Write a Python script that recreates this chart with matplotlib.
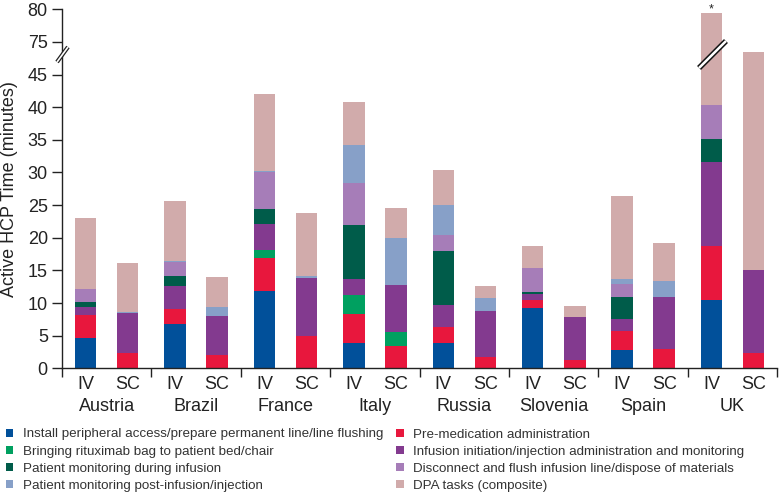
import numpy as np
import matplotlib
matplotlib.use('Agg')
import matplotlib.pyplot as plt
from matplotlib.path import Path

plt.rcParams['font.family'] = ['Liberation Sans', 'DejaVu Sans']

countries = ['Austria', 'Brazil', 'France', 'Italy', 'Russia', 'Slovenia', 'Spain', 'UK']
routes = ['IV', 'SC']

tasks = ['Install peripheral access/prepare permanent line/line flushing',
         'Pre-medication administration',
         'Bringing rituximab bag to patient bed/chair',
         'Infusion initiation/injection administration and monitoring',
         'Patient monitoring during infusion',
         'Disconnect and flush infusion line/dispose of materials',
         'Patient monitoring post-infusion/injection',
         'DPA tasks (composite)']
colors = ['#01509a', '#e8173d', '#00a060', '#833a8f',
          '#005c4a', '#a67db8', '#87a0c8', '#d1abab']

# minutes per task, one value per country
install_iv    = [4.6, 6.75, 11.8, 3.9, 3.9, 9.25, 2.8, 10.5]
install_sc    = [0, 0, 0, 0, 0, 0, 0, 0]
premed_iv     = [3.5, 2.3, 5.1, 4.45, 2.5, 1.15, 2.9, 8.2]
premed_sc     = [2.3, 2.1, 4.95, 3.4, 1.7, 1.3, 3.0, 2.3]
bag_iv        = [0, 0, 1.25, 2.9, 0, 0, 0, 0]
bag_sc        = [0, 0, 0, 2.1, 0, 0, 0, 0]
infusion_iv   = [1.3, 3.5, 4.0, 2.4, 3.25, 1.05, 1.8, 12.9]
infusion_sc   = [6.1, 5.95, 8.9, 7.2, 7.1, 6.6, 8.0, 12.7]
monitor_iv    = [0.8, 1.6, 2.3, 8.3, 8.3, 0.25, 3.5, 3.6]
monitor_sc    = [0, 0, 0, 0, 0, 0, 0, 0]
disconnect_iv = [2.0, 2.2, 5.55, 6.5, 2.4, 3.6, 1.9, 5.2]
disconnect_sc = [0, 0, 0, 0, 0, 0, 0, 0]
post_iv       = [0, 0.15, 0.3, 5.7, 4.7, 0.1, 0.8, 0]
post_sc       = [0.3, 1.3, 0.3, 7.2, 2.0, 0, 2.3, 0]
dpa_iv        = [10.9, 9.1, 11.7, 6.7, 5.4, 3.3, 12.7, 39.0]
dpa_sc        = [7.4, 4.65, 9.6, 4.6, 1.8, 1.6, 5.9, 33.4]

iv_data = [install_iv, premed_iv, bag_iv, infusion_iv, monitor_iv, disconnect_iv, post_iv, dpa_iv]
sc_data = [install_sc, premed_sc, bag_sc, infusion_sc, monitor_sc, disconnect_sc, post_sc, dpa_sc]

yticks = [0, 5, 10, 15, 20, 25, 30, 35, 40, 45, 75, 80]

# broken y axis: squeeze 49..75 into one unit
brk_v = [-100, 49, 75, 200]
brk_u = [-100, 49, 50, 175]
def fwd(v):
  return np.interp(v, brk_v, brk_u)
def inv(u):
  return np.interp(u, brk_u, brk_v)

fig = plt.figure(figsize=(7.81, 4.96), dpi=100)
ax = fig.add_axes([62/781, 1 - 368.3/496, (777.3 - 62)/781, (368.3 - 9.3)/496])
ax.set_yscale('function', functions=(fwd, inv))

x = np.arange(len(countries))
x_iv = x + 0.265
x_sc = x + 0.735
w = 0.24

b_iv = np.zeros(len(countries))
b_sc = np.zeros(len(countries))
handles = []
for name, col, iv, sc in zip(tasks, colors, iv_data, sc_data):
  h = ax.bar(x_iv, iv, w, bottom=b_iv, color=col, linewidth=0, label=name)
  ax.bar(x_sc, sc, w, bottom=b_sc, color=col, linewidth=0)
  b_iv += np.array(iv)
  b_sc += np.array(sc)
  handles.append(h)

ax.set_xlim(0, len(countries))
ax.set_ylim(0, 80)
ax.set_yticks(yticks)
ax.set_yticklabels([str(t) for t in yticks])
ax.minorticks_off()

for s in ['top', 'right']:
  ax.spines[s].set_visible(False)
for s in ['left', 'bottom']:
  ax.spines[s].set_linewidth(1.0)
  ax.spines[s].set_color('#222222')

ax.set_xticks(np.arange(len(countries) + 1))
ax.set_xticklabels([])
ax.set_xticks(np.concatenate([x_iv, x_sc]), minor=True)
ax.set_xticklabels(['IV'] * len(countries) + ['SC'] * len(countries), minor=True)
ax.tick_params(axis='x', which='major', direction='out', length=6.5, width=1.0, color='#222222')
ax.tick_params(axis='x', which='minor', length=0, pad=5.3, labelsize=13, labelcolor='#222222')
ax.tick_params(axis='y', direction='out', length=7.2, width=1.0, pad=3, labelsize=13,
               color='#222222', labelcolor='#222222')

for i, c in enumerate(countries):
  ax.annotate(c, xy=(i + 0.5, 0), xycoords=('data', 'axes fraction'),
              xytext=(0, -42.7), textcoords='offset pixels',
              ha='center', va='baseline', fontsize=13, color='#222222')

fig.text(9.5/781, 1 - 189/496, 'Active HCP Time (minutes)', rotation=90,
         ha='center', va='center', fontsize=13, color='#222222')

# axis break marks
slash = Path([(-0.73, -1), (0.73, 1)])
ax.plot([0], [48.2], marker=slash, ms=10.8, mew=3.0, color='#222222', mfc='none',
        clip_on=False, zorder=5)
ax.plot([0], [48.2], marker=slash, ms=10.8, mew=1.2, color='white', mfc='none',
        clip_on=False, zorder=6)

# break on the UK IV bar
diag = Path([(-1, -1), (1, 1)])
ax.plot([x_iv[-1]], [48.2], marker=diag, ms=19.4, mew=4.0, color='#111111', mfc='none',
        clip_on=False, zorder=5)
ax.plot([x_iv[-1]], [48.2], marker=diag, ms=19.4, mew=1.8, color='white', mfc='none',
        clip_on=False, zorder=6)
ax.annotate('*', xy=(x_iv[-1], b_iv[-1]), xytext=(0, 4), textcoords='offset pixels',
            ha='center', va='center', fontsize=9, color='#222222')

order = [0, 2, 4, 6, 1, 3, 5, 7]
fig.legend([handles[i] for i in order], [tasks[i] for i in order], ncol=2,
           loc='upper left', bbox_to_anchor=(6/781, 1 - 428.5/496), frameon=False,
           fontsize=9.6, handlelength=0.55, handleheight=0.55, handletextpad=0.7,
           columnspacing=1.0, labelspacing=0.38, borderpad=0, borderaxespad=0,
           labelcolor='#333333')

plt.savefig('out.png', dpi=100)
plt.close()
